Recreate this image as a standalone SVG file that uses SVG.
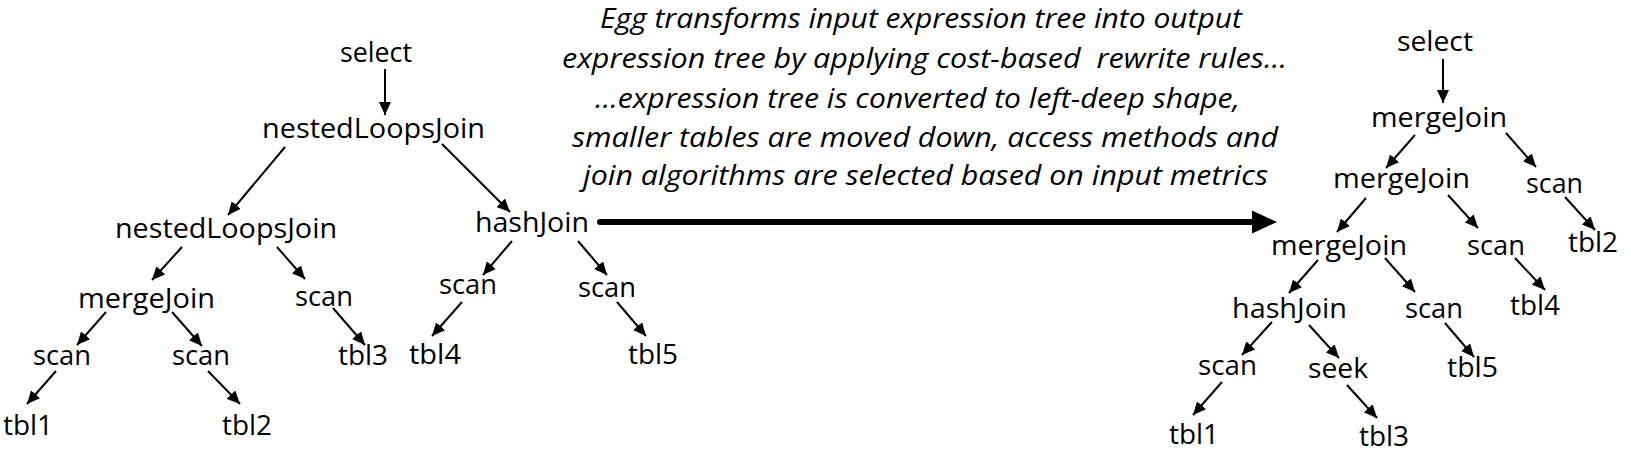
<svg xmlns="http://www.w3.org/2000/svg" width="1631" height="457" viewBox="0 0 1631 457">
<style>
.n{font-family:"Open Sans","Noto Sans","DejaVu Sans",sans-serif;font-size:27px;fill:#000;text-anchor:middle}
.cap{font-family:"Open Sans","Noto Sans","DejaVu Sans",sans-serif;font-size:27px;font-style:italic;fill:#000;text-anchor:middle;white-space:pre}
.e{stroke:#000;stroke-width:2;fill:none;marker-end:url(#ah)}
</style>
<defs>
<marker id="ah" viewBox="0 0 13 12" refX="13" refY="6" markerWidth="13" markerHeight="12" markerUnits="userSpaceOnUse" orient="auto">
<path d="M0,0 L13,6 L0,12 z" fill="#000"/>
</marker>
<marker id="big" viewBox="0 0 25 23" refX="10" refY="11.5" markerWidth="25" markerHeight="23" markerUnits="userSpaceOnUse" orient="auto">
<path d="M0,0 L25,11.5 L0,23 z" fill="#000"/>
</marker>
</defs>
<rect width="1631" height="457" fill="#fff"/>
<g id="caption">
<text class="cap" x="921" y="28" textLength="642" lengthAdjust="spacingAndGlyphs">Egg transforms input expression tree into output</text>
<text class="cap" x="924.5" y="68" textLength="725" lengthAdjust="spacingAndGlyphs">expression tree by applying cost-based  rewrite rules…</text>
<text class="cap" x="917.5" y="108" textLength="645" lengthAdjust="spacingAndGlyphs">…expression tree is converted to left-deep shape,</text>
<text class="cap" x="925" y="147" textLength="706" lengthAdjust="spacingAndGlyphs">smaller tables are moved down, access methods and</text>
<text class="cap" x="925.5" y="185" textLength="685" lengthAdjust="spacingAndGlyphs">join algorithms are selected based on input metrics</text>
</g>
<g id="input-tree">
<g id="L-select"><text class="n" x="376" y="62" textLength="72" lengthAdjust="spacingAndGlyphs">select</text></g>
<g id="L-nlj1"><text class="n" x="373.5" y="138" textLength="223" lengthAdjust="spacingAndGlyphs">nestedLoopsJoin</text></g>
<g id="L-nlj2"><text class="n" x="226" y="238" textLength="222" lengthAdjust="spacingAndGlyphs">nestedLoopsJoin</text></g>
<g id="L-hash"><text class="n" x="532" y="232" textLength="114" lengthAdjust="spacingAndGlyphs">hashJoin</text></g>
<g id="L-merge"><text class="n" x="146.5" y="308" textLength="137" lengthAdjust="spacingAndGlyphs">mergeJoin</text></g>
<g id="L-scan3"><text class="n" x="324" y="306" textLength="58" lengthAdjust="spacingAndGlyphs">scan</text></g>
<g id="L-scan1"><text class="n" x="62" y="365" textLength="58" lengthAdjust="spacingAndGlyphs">scan</text></g>
<g id="L-scan2"><text class="n" x="201" y="365" textLength="58" lengthAdjust="spacingAndGlyphs">scan</text></g>
<g id="L-tbl3"><text class="n" x="363" y="365" textLength="50" lengthAdjust="spacingAndGlyphs">tbl3</text></g>
<g id="L-tbl1"><text class="n" x="28" y="435" textLength="50" lengthAdjust="spacingAndGlyphs">tbl1</text></g>
<g id="L-tbl2"><text class="n" x="247" y="435" textLength="50" lengthAdjust="spacingAndGlyphs">tbl2</text></g>
<g id="L-scan4"><text class="n" x="468" y="294" textLength="58" lengthAdjust="spacingAndGlyphs">scan</text></g>
<g id="L-scan5"><text class="n" x="607" y="297" textLength="58" lengthAdjust="spacingAndGlyphs">scan</text></g>
<g id="L-tbl4"><text class="n" x="435" y="364" textLength="52" lengthAdjust="spacingAndGlyphs">tbl4</text></g>
<g id="L-tbl5"><text class="n" x="653" y="364" textLength="50" lengthAdjust="spacingAndGlyphs">tbl5</text></g>
</g>
<g id="output-tree">
<g id="R-select"><text class="n" x="1435" y="51" textLength="76" lengthAdjust="spacingAndGlyphs">select</text></g>
<g id="R-merge1"><text class="n" x="1439" y="127" textLength="136" lengthAdjust="spacingAndGlyphs">mergeJoin</text></g>
<g id="R-merge2"><text class="n" x="1401.5" y="188" textLength="137" lengthAdjust="spacingAndGlyphs">mergeJoin</text></g>
<g id="R-scan2"><text class="n" x="1554.5" y="193" textLength="57" lengthAdjust="spacingAndGlyphs">scan</text></g>
<g id="R-merge3"><text class="n" x="1339" y="255" textLength="136" lengthAdjust="spacingAndGlyphs">mergeJoin</text></g>
<g id="R-scan4"><text class="n" x="1496" y="255" textLength="58" lengthAdjust="spacingAndGlyphs">scan</text></g>
<g id="R-tbl2"><text class="n" x="1593" y="252" textLength="50" lengthAdjust="spacingAndGlyphs">tbl2</text></g>
<g id="R-hash"><text class="n" x="1289.5" y="318" textLength="115" lengthAdjust="spacingAndGlyphs">hashJoin</text></g>
<g id="R-scan5"><text class="n" x="1434" y="318" textLength="58" lengthAdjust="spacingAndGlyphs">scan</text></g>
<g id="R-tbl4"><text class="n" x="1535" y="315" textLength="50" lengthAdjust="spacingAndGlyphs">tbl4</text></g>
<g id="R-scan1"><text class="n" x="1227.5" y="375" textLength="59" lengthAdjust="spacingAndGlyphs">scan</text></g>
<g id="R-seek"><text class="n" x="1338" y="378" textLength="60" lengthAdjust="spacingAndGlyphs">seek</text></g>
<g id="R-tbl5"><text class="n" x="1472.5" y="377" textLength="51" lengthAdjust="spacingAndGlyphs">tbl5</text></g>
<g id="R-tbl1"><text class="n" x="1194" y="444" textLength="50" lengthAdjust="spacingAndGlyphs">tbl1</text></g>
<g id="R-tbl3"><text class="n" x="1384" y="446" textLength="50" lengthAdjust="spacingAndGlyphs">tbl3</text></g>
</g>
<g id="connectors">
<line class="e" x1="385" y1="69" x2="385" y2="115"/>
<line class="e" x1="285" y1="147" x2="228" y2="215"/>
<line class="e" x1="442" y1="144" x2="510" y2="212"/>
<line class="e" x1="182" y1="247" x2="152" y2="280"/>
<line class="e" x1="277" y1="247" x2="305" y2="279"/>
<line class="e" x1="106" y1="312" x2="77" y2="345"/>
<line class="e" x1="172" y1="312" x2="202" y2="346"/>
<line class="e" x1="333" y1="308" x2="365" y2="345"/>
<line class="e" x1="56" y1="371" x2="27" y2="404"/>
<line class="e" x1="208" y1="371" x2="240" y2="404"/>
<line class="e" x1="512" y1="241" x2="483" y2="275"/>
<line class="e" x1="578" y1="241" x2="607" y2="275"/>
<line class="e" x1="462" y1="302" x2="432" y2="336"/>
<line class="e" x1="617" y1="302" x2="646" y2="336"/>
<line x1="600" y1="222" x2="1262" y2="222" stroke="#000" stroke-width="6" stroke-linecap="round" marker-end="url(#big)"/>
<line class="e" x1="1443" y1="59" x2="1443" y2="103"/>
<line class="e" x1="1415" y1="135" x2="1386" y2="168"/>
<line class="e" x1="1506" y1="133" x2="1536" y2="167"/>
<line class="e" x1="1366" y1="198" x2="1337" y2="232"/>
<line class="e" x1="1448" y1="195" x2="1478" y2="228"/>
<line class="e" x1="1565" y1="197" x2="1595" y2="230"/>
<line class="e" x1="1318" y1="260" x2="1289" y2="293"/>
<line class="e" x1="1385" y1="258" x2="1415" y2="292"/>
<line class="e" x1="1515" y1="258" x2="1545" y2="290"/>
<line class="e" x1="1272" y1="322" x2="1242" y2="355"/>
<line class="e" x1="1309" y1="325" x2="1339" y2="358"/>
<line class="e" x1="1445" y1="323" x2="1474" y2="357"/>
<line class="e" x1="1222" y1="382" x2="1193" y2="415"/>
<line class="e" x1="1347" y1="385" x2="1377" y2="418"/>
</g>
</svg>
